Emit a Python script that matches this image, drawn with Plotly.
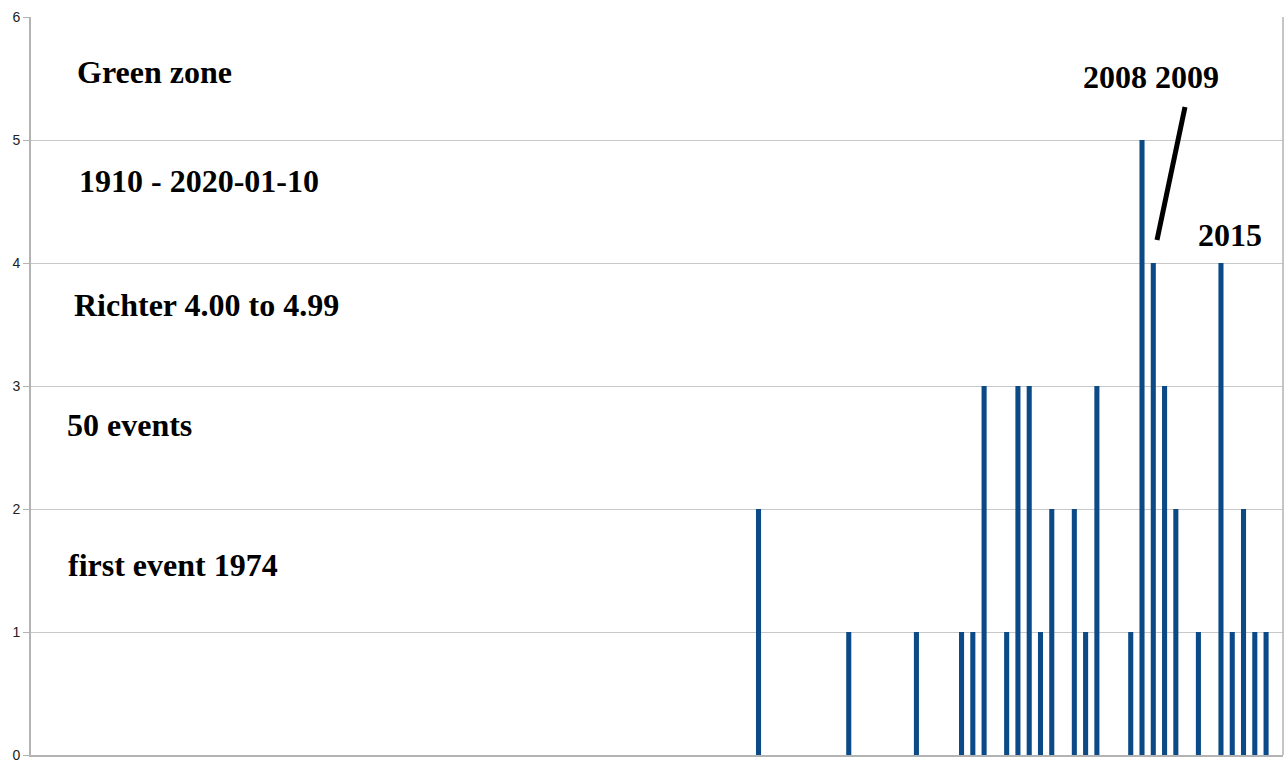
import plotly.graph_objects as go

years = [1974, 1982, 1988, 1992, 1993, 1994, 1996, 1997, 1998, 1999, 2000, 2002,
         2003, 2004, 2007, 2008, 2009, 2010, 2011, 2013, 2015, 2016, 2017, 2018, 2019]
counts = [2, 1, 1, 1, 1, 3, 1, 3, 3, 1, 2, 2,
          1, 3, 1, 5, 4, 3, 2, 1, 4, 1, 2, 1, 1]
y_ticks = [0, 1, 2, 3, 4, 5, 6]

W, H = 1285, 763
L, R, T, B = 31, 2, 17, 8
PW, PH = W - L - R, H - T - B

def px(x):
    return (x - L) / PW

def py(y):
    return 1 - (y - T) / PH

fig = go.Figure()
fig.add_trace(go.Bar(x=years, y=counts, width=0.45,
                     marker=dict(color="#0b4a86", line=dict(width=0))))

serif = dict(family="Liberation Serif", size=32, color="black")
texts = [
    ("<b>Green zone</b>", 75, 72),
    ("<b>1910 - 2020-01-10</b>", 77, 181),
    ("<b>Richter 4.00 to 4.99</b>", 72, 305),
    ("<b>50 events</b>", 65, 425),
    ("<b>first event 1974</b>", 66, 565),
    ("<b>2008 2009</b>", 1081, 77),
    ("<b>2015</b>", 1196, 235),
]
for t, x, y in texts:
    fig.add_annotation(text=t, xref="paper", yref="paper", x=px(x), y=py(y),
                       xanchor="left", yanchor="middle", showarrow=False, font=serif)

fig.add_shape(type="line", xref="paper", yref="paper",
              x0=px(1185), y0=py(107), x1=px(1157), y1=py(240),
              line=dict(color="black", width=5))

fig.update_layout(
    width=W, height=H,
    margin=dict(l=L, r=R, t=T, b=B, autoexpand=False),
    plot_bgcolor="white", paper_bgcolor="white",
    showlegend=False,
    xaxis=dict(range=[1909.5, 2020.5], showticklabels=False, showgrid=False,
               zeroline=False, showline=True, linecolor="#b3b3b3", linewidth=1.5,
               mirror=False, ticks="", automargin=False),
    yaxis=dict(range=[0, 6], tickvals=y_ticks, showgrid=True, gridcolor="#c8c8c8",
               gridwidth=1.2, zeroline=False, showline=True, linecolor="#b3b3b3",
               linewidth=2, ticks="outside", ticklen=6, tickcolor="#b3b3b3",
               tickfont=dict(family="Liberation Sans", size=14, color="#222"),
               mirror=False, automargin=False),
)
# right border
fig.add_shape(type="line", xref="paper", yref="paper", x0=1, x1=1, y0=0, y1=1,
              line=dict(color="#b3b3b3", width=1.5))

fig.write_html("out.html", config={"displayModeBar": False},
               post_script="document.body.style.margin='0';document.body.style.overflow='hidden';")
